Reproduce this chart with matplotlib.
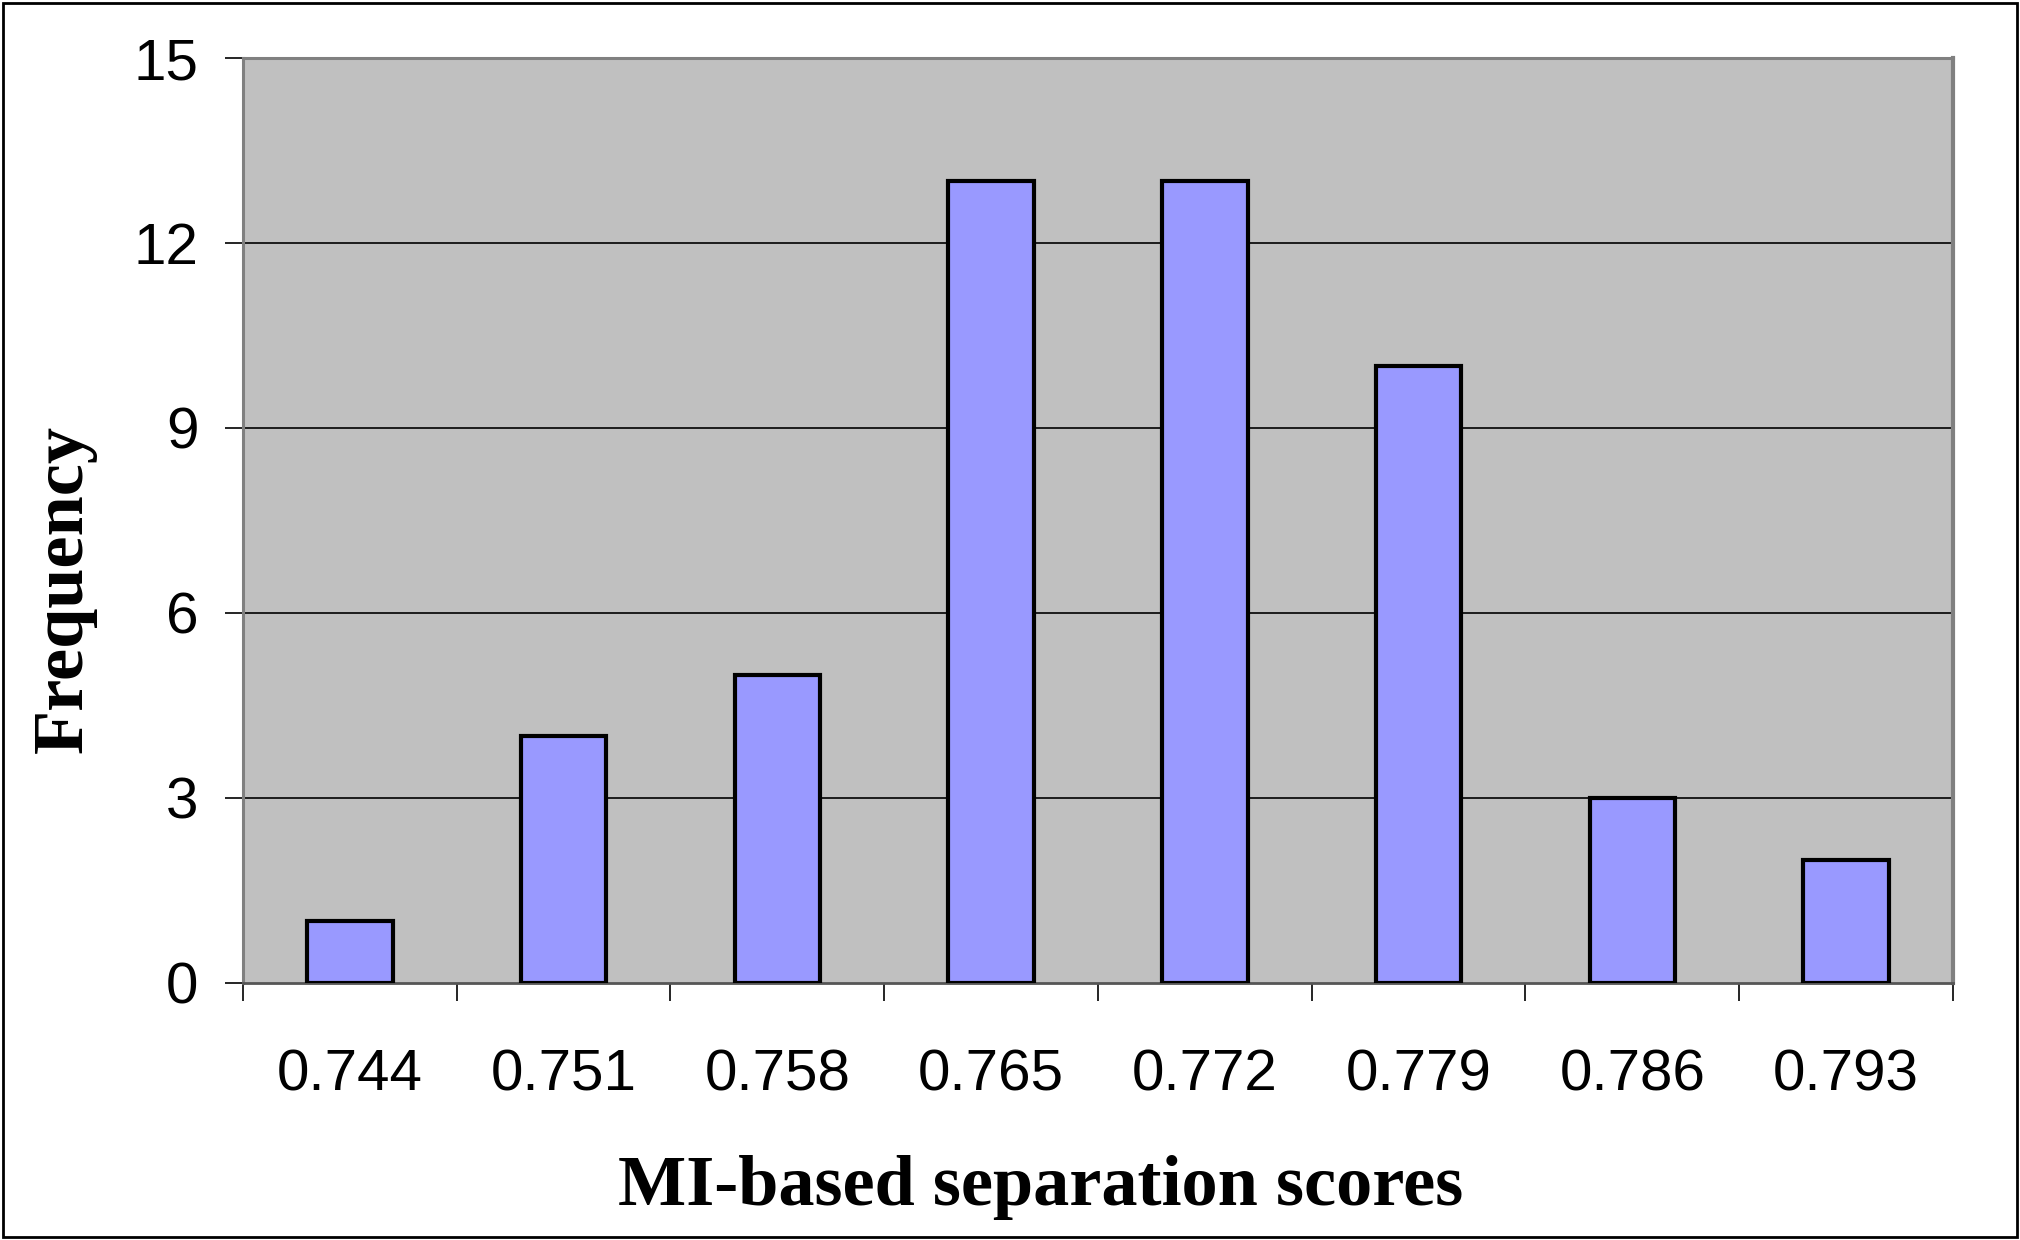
import numpy as np
import matplotlib
matplotlib.use("Agg")
import matplotlib.pyplot as plt
from matplotlib.patches import Rectangle

# datos del histograma
categorias = ['0.744', '0.751', '0.758', '0.765', '0.772', '0.779', '0.786', '0.793']
frecuencias = [1, 4, 5, 13, 13, 10, 3, 2]
yticks = [0, 3, 6, 9, 12, 15]

fig = plt.figure(figsize=(20.2, 12.4), dpi=100)
ax = fig.add_axes([0.1203, 0.2073, 0.9668 - 0.1203, 0.9532 - 0.2073])

x = np.arange(len(categorias)) + 0.5
ax.bar(x, frecuencias, width=0.4, color='#9999FF', edgecolor='black', linewidth=3, zorder=3)

ax.set_facecolor('#C0C0C0')
ax.set_xlim(0, len(categorias))
ax.set_ylim(0, 15)

# grilla horizontal negra
ax.set_yticks(yticks)
ax.set_yticklabels([str(v) for v in yticks], fontsize=42, family='Liberation Sans')
for v in yticks[1:-1]:
    ax.axhline(v, color='black', linewidth=1.2, zorder=1)

# ticks del eje x en los bordes de las categorias, etiquetas centradas
ax.set_xticks(np.arange(len(categorias) + 1))
ax.set_xticklabels([])
ax.set_xticks(x, minor=True)
ax.set_xticklabels(categorias, minor=True, fontsize=42, family='Liberation Sans')
ax.tick_params(axis='x', which='minor', length=0, pad=47)
ax.tick_params(axis='x', which='major', length=13, width=1.2, color='black')
ax.tick_params(axis='y', length=13, width=1.2, color='black', pad=19)

for s in ['left', 'top', 'right']:
    ax.spines[s].set_color('#808080')
    ax.spines[s].set_linewidth(2.2)
ax.spines['right'].set_linewidth(3)
ax.spines['bottom'].set_color('#555555')
ax.spines['bottom'].set_linewidth(2)

fig.text(0.515, 0.0282, 'MI-based separation scores', ha='center', va='baseline',
         fontsize=52, fontweight='bold', family='Liberation Serif')
fig.text(0.032, 0.525, 'Frequency', ha='center', va='center', rotation=90,
         fontsize=52, fontweight='bold', family='Liberation Serif')

# borde exterior
fig.patches.append(Rectangle((0.0015, 0.0025), 0.997, 0.995, transform=fig.transFigure,
                             fill=False, edgecolor='black', linewidth=2))

fig.savefig('out.png', dpi=100, facecolor='white')
